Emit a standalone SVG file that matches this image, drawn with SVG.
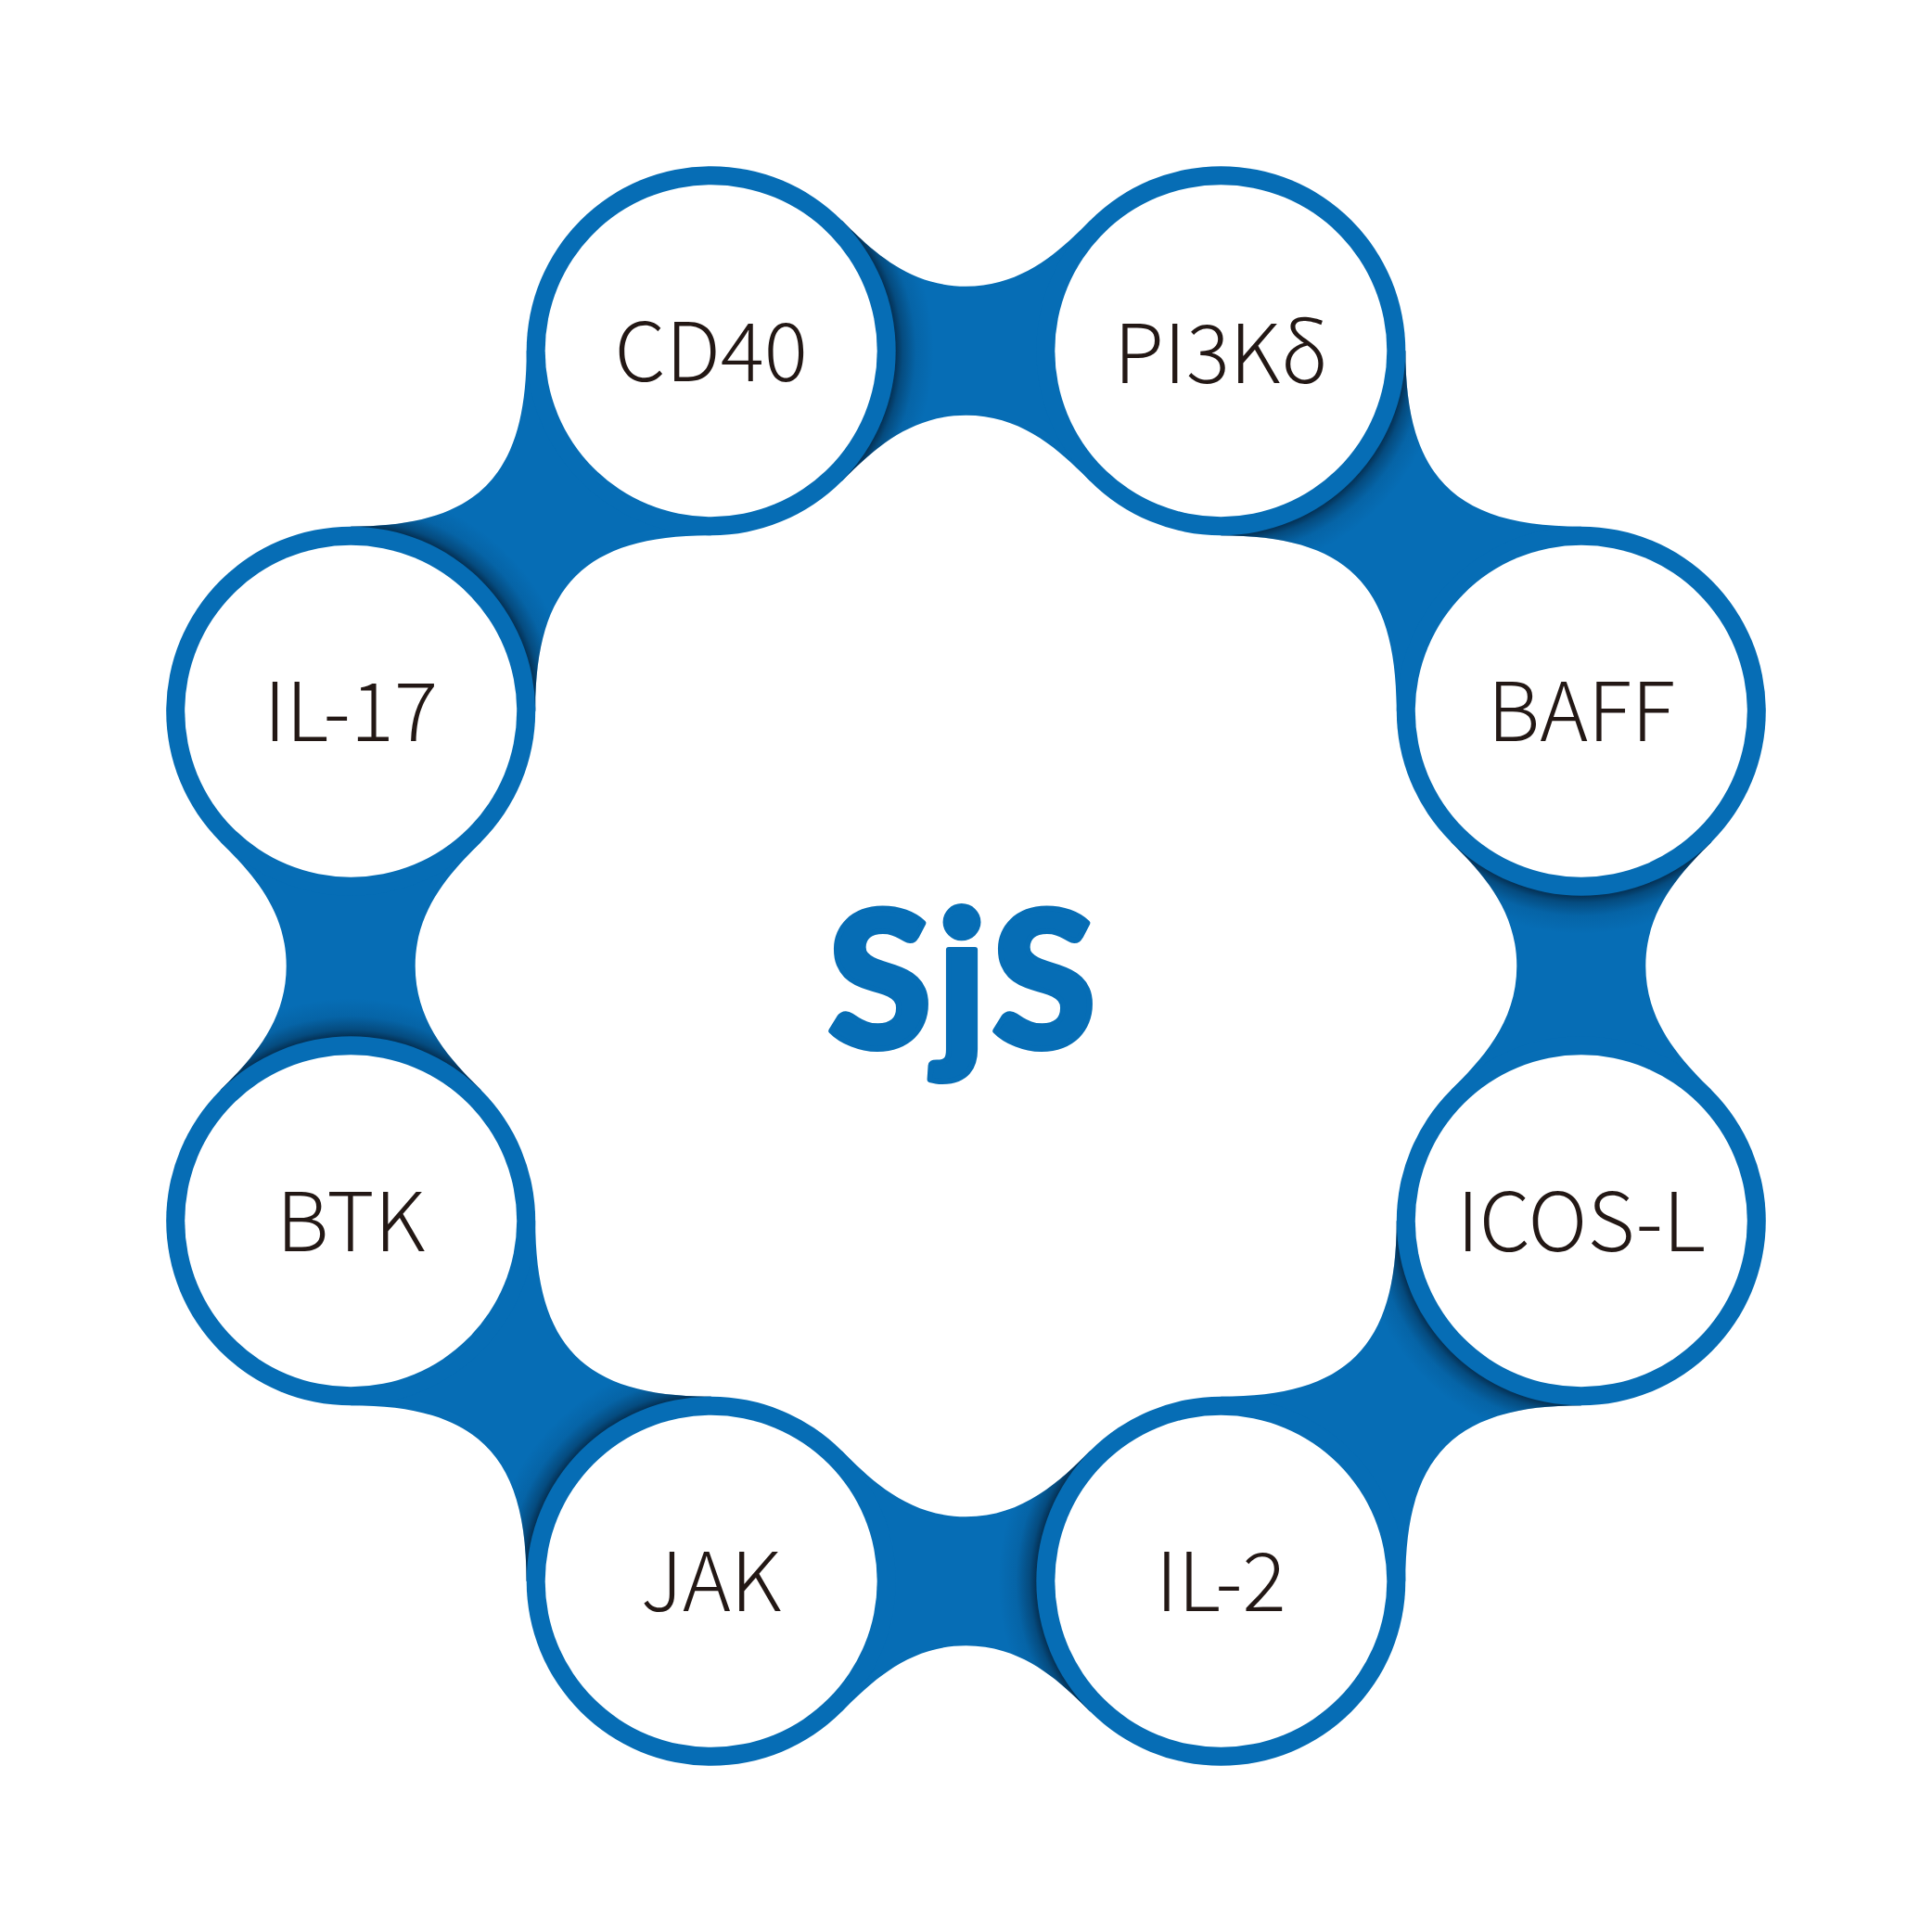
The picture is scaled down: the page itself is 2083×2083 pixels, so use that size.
<svg xmlns="http://www.w3.org/2000/svg" xmlns:xlink="http://www.w3.org/1999/xlink" width="2083" height="2083" viewBox="0 0 2083 2083">
  <style>
    .blue { fill: #066db5; }
    .ring { fill: #066db5; }
    .inner { fill: #ffffff; }
    .lbl { font-family: "Noto Sans CJK JP", "Noto Sans", sans-serif; font-weight: 300; font-size: 88px; fill: #231815; text-anchor: middle; }
    .logo { font-family: "Lato Black", Lato, "Noto Sans", sans-serif; font-weight: 900; font-size: 204px; fill: #066db5; stroke: #066db5; stroke-width: 6; stroke-linejoin: round; letter-spacing: 6px; text-anchor: middle; }
  </style>
  <defs>
    <radialGradient id="shTop" gradientUnits="userSpaceOnUse" cx="766.7" cy="378.2" r="240">
      <stop offset="0.825" stop-color="#04223d" stop-opacity="0.85"/>
      <stop offset="0.86" stop-color="#04223d" stop-opacity="0.45"/>
      <stop offset="0.92" stop-color="#04223d" stop-opacity="0.12"/>
      <stop offset="1" stop-color="#04223d" stop-opacity="0"/>
    </radialGradient>
    <radialGradient id="shCorner" gradientUnits="userSpaceOnUse" cx="378.2" cy="766.7" r="240">
      <stop offset="0.825" stop-color="#04223d" stop-opacity="0.85"/>
      <stop offset="0.86" stop-color="#04223d" stop-opacity="0.45"/>
      <stop offset="0.92" stop-color="#04223d" stop-opacity="0.12"/>
      <stop offset="1" stop-color="#04223d" stop-opacity="0"/>
    </radialGradient>
    <path id="linkStraight" d="M907.41 237.49 C939.41 269.49 979.5 308.7 1041.5 308.7 C1103.5 308.7 1143.59 269.49 1175.59 237.49 L1175.59 518.91 C1143.59 486.91 1103.5 447.7 1041.5 447.7 C979.5 447.7 939.41 486.91 907.41 518.91 Z"/>
    <path id="linkCorner" d="M567.7 378.2 C567.7 514.2 514.2 567.7 378.2 567.7 L378.2 766.7 L577.2 766.7 C577.2 630.7 630.7 577.2 766.7 577.2 L766.7 378.2 Z"/>
    <g id="unit">
      <use xlink:href="#linkStraight" class="blue"/>
      <use xlink:href="#linkCorner" class="blue"/>
      <use xlink:href="#linkStraight" fill="url(#shTop)"/>
      <use xlink:href="#linkCorner" fill="url(#shCorner)"/>
    </g>
  </defs>
  <rect width="2083" height="2083" fill="#ffffff"/>
  <g id="connectors">
    <use xlink:href="#unit"/>
    <use xlink:href="#unit" transform="rotate(90 1041.5 1041.5)"/>
    <use xlink:href="#unit" transform="rotate(180 1041.5 1041.5)"/>
    <use xlink:href="#unit" transform="rotate(270 1041.5 1041.5)"/>
  </g>
  <g id="node-cd40">
    <circle class="ring" cx="766.7" cy="378.2" r="199"/>
    <circle class="inner" cx="766.7" cy="378.2" r="179"/>
    <text class="lbl" x="766.7" y="410.5">CD40</text>
  </g>
  <g id="node-pi3k">
    <circle class="ring" cx="1316.3" cy="378.2" r="199"/>
    <circle class="inner" cx="1316.3" cy="378.2" r="179"/>
    <text class="lbl" x="1316.3" y="413">PI3Kδ</text>
  </g>
  <g id="node-baff">
    <circle class="ring" cx="1704.8" cy="766.7" r="199"/>
    <circle class="inner" cx="1704.8" cy="766.7" r="179"/>
    <text class="lbl" x="1704.8" y="798.5">BAFF</text>
  </g>
  <g id="node-icosl">
    <circle class="ring" cx="1704.8" cy="1316.3" r="199"/>
    <circle class="inner" cx="1704.8" cy="1316.3" r="179"/>
    <text class="lbl" x="1704.8" y="1348.5">ICOS-L</text>
  </g>
  <g id="node-il2">
    <circle class="ring" cx="1316.3" cy="1704.8" r="199"/>
    <circle class="inner" cx="1316.3" cy="1704.8" r="179"/>
    <text class="lbl" x="1316.3" y="1736.5">IL-2</text>
  </g>
  <g id="node-jak">
    <circle class="ring" cx="766.7" cy="1704.8" r="199"/>
    <circle class="inner" cx="766.7" cy="1704.8" r="179"/>
    <text class="lbl" x="766.7" y="1736.5">JAK</text>
  </g>
  <g id="node-btk">
    <circle class="ring" cx="378.2" cy="1316.3" r="199"/>
    <circle class="inner" cx="378.2" cy="1316.3" r="179"/>
    <text class="lbl" x="378.2" y="1348.5">BTK</text>
  </g>
  <g id="node-il17">
    <circle class="ring" cx="378.2" cy="766.7" r="199"/>
    <circle class="inner" cx="378.2" cy="766.7" r="179"/>
    <text class="lbl" x="378.2" y="798.5">IL-17</text>
  </g>
  <g id="center-logo">
    <text class="logo" x="1040" y="1129">SjS</text>
  </g>
</svg>
